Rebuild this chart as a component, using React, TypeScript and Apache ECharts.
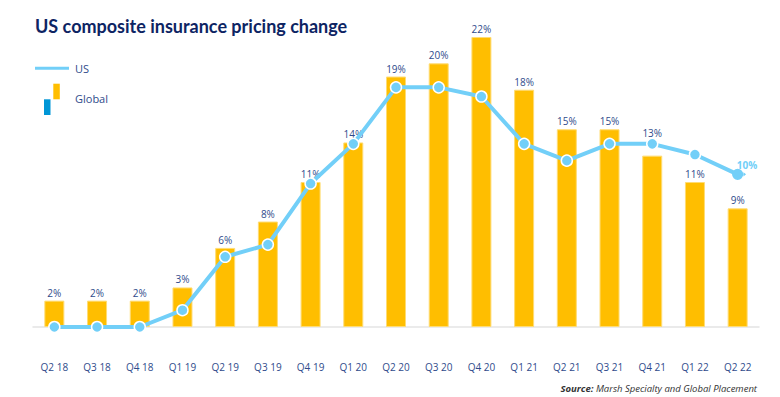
import React, { useEffect, useRef } from "react";
import * as echarts from "echarts";

const categories = ["Q2 18", "Q3 18", "Q4 18", "Q1 19", "Q2 19", "Q3 19", "Q4 19", "Q1 20", "Q2 20", "Q3 20", "Q4 20", "Q1 21", "Q2 21", "Q3 21", "Q4 21", "Q1 22", "Q2 22"];
const globalValues = [2, 2, 2, 3, 6, 8, 11, 14, 19, 20, 22, 18, 15, 15, 13, 11, 9];
const usValues = [0, 0, 0, 1.1, 4.6, 5.4, 9.4, 12, 15.7, 15.7, 15.1, 12, 10.9, 12, 12, 11.3, 10];
const titleText = "US composite insurance pricing change";
const sourceLabel = "Source:";
const sourceText = " Marsh Specialty and Global Placement";
const legendUS = "US";
const legendGlobal = "Global";

const NAVY = "#0d2463";
const LABEL = "#2f4b8b";
const LINE = "#72cff8";
const BAR = "#ffbe00";

export default function App() {
  const ref = useRef<HTMLDivElement>(null);
  useEffect(() => {
    if (!ref.current) return;
    const chart = echarts.init(ref.current, null, { renderer: "svg" });
    const lastIdx = usValues.length - 1;
    const usData = usValues.map((v, i) =>
      i === lastIdx
        ? {
            value: v,
            symbol: "path://M6,0 A6,6 0 1,1 6,12 A6,6 0 1,1 6,0 Z M12.2,3.6 L15,6 L12.2,8.4 Z",
            symbolSize: [14, 11.2],
            symbolOffset: [1.4, 0],
            itemStyle: { borderWidth: 0 },
            label: {
              show: true,
              position: "top",
              offset: [8, 6],
              formatter: "{c}%",
              color: LINE,
              fontSize: 10,
              fontWeight: "bold",
              fontFamily: "Open Sans",
            },
          }
        : v
    );
    // the reference lifts the Q4 21 label clear of the US line
    const barData = globalValues.map((v, i) =>
      categories[i] === "Q4 21" ? { value: v, label: { distance: 18 } } : v
    );
    chart.setOption({
      animation: false,
      textStyle: { fontFamily: "Open Sans" },
      grid: { left: 33, right: 21, top: 37, bottom: 70 },
      xAxis: {
        type: "category",
        data: categories,
        axisLine: { show: true, lineStyle: { color: "#e4e4e4", width: 1.5 } },
        axisTick: { show: false },
        axisLabel: { color: LABEL, fontSize: 10, margin: 35, fontFamily: "Open Sans" },
      },
      yAxis: [
        { type: "value", min: 0, max: 22, show: false, splitLine: { show: false } },
        { type: "value", min: 0, max: 19, show: false, splitLine: { show: false } },
      ],
      series: [
        {
          name: legendGlobal,
          type: "bar",
          data: barData,
          barWidth: 20,
          yAxisIndex: 0,
          itemStyle: { color: BAR, borderColor: "#ffdc73", borderWidth: 1 },
          label: {
            show: true,
            position: "top",
            distance: 3,
            formatter: "{c}%",
            color: LABEL,
            fontSize: 10,
            fontFamily: "Open Sans",
          },
          z: 2,
        },
        {
          name: legendUS,
          type: "line",
          data: usData,
          yAxisIndex: 1,
          symbol: "circle",
          symbolSize: 11,
          lineStyle: { color: LINE, width: 4 },
          itemStyle: { color: LINE, borderColor: "#ffffff", borderWidth: 1.5 },
          z: 3,
        },
      ],
      graphic: [
        {
          type: "text",
          left: 35,
          top: 17,
          style: {
            text: titleText,
            fill: NAVY,
            font: "bold 18px Lato",
          },
        },
        {
          type: "line",
          shape: { x1: 35, y1: 68.3, x2: 69, y2: 68.3 },
          style: { stroke: LINE, lineWidth: 3 },
        },
        {
          type: "text",
          x: 75,
          y: 68.3,
          style: { text: legendUS, fill: LABEL, font: "11px 'Open Sans'", textVerticalAlign: "middle" },
        },
        { type: "rect", shape: { x: 44, y: 99.3, width: 6.5, height: 15.7 }, style: { fill: "#0096d6" } },
        { type: "rect", shape: { x: 53.3, y: 83.7, width: 6.5, height: 15.6 }, style: { fill: BAR } },
        {
          type: "text",
          x: 75,
          y: 98.3,
          style: { text: legendGlobal, fill: LABEL, font: "11px 'Open Sans'", textVerticalAlign: "middle" },
        },
        {
          type: "text",
          right: 23,
          top: 383,
          style: {
            text: "{b|" + sourceLabel + "}{n|" + sourceText + "}",
            rich: {
              b: { fontFamily: "Open Sans", fontSize: 9.5, fontStyle: "italic", fontWeight: "bold", fill: "#333" },
              n: { fontFamily: "Open Sans", fontSize: 9.5, fontStyle: "italic", fill: "#333" },
            },
          },
        },
      ],
    });
    return () => chart.dispose();
  }, []);
  return <div ref={ref} style={{ position: "fixed", left: 0, top: 0, width: 780, height: 397, background: "#fff" }} />;
}
